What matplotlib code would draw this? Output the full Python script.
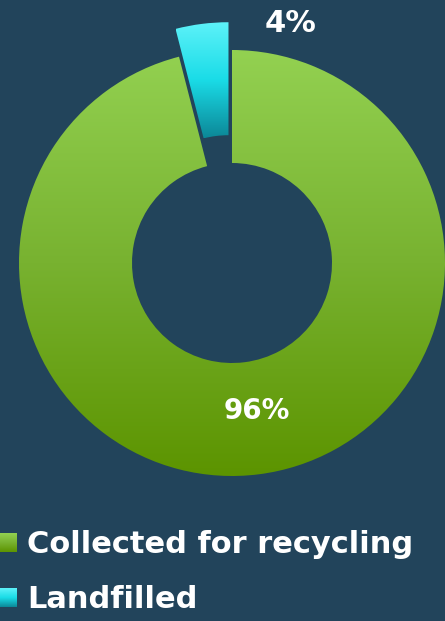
import numpy as np
import matplotlib.pyplot as plt
from matplotlib.colors import LinearSegmentedColormap
from matplotlib.patches import Rectangle

labels = ['Collected for recycling', 'Landfilled']
values = [96, 4]
pct_labels = ['96%', '4%']
top_colors = ['#93d151', '#5ef2f9']
mid_colors = ['#78b230', '#1adce7']
bottom_colors = ['#5c9400', '#0c8797']

bg = '#22445b'
plt.rcParams['font.family'] = ['DejaVu Sans']

fig = plt.figure(figsize=(4.45, 6.21), dpi=100, facecolor=bg)
ax = fig.add_axes([0, 0, 1, 1])
ax.set_facecolor(bg)

# axes in pixel units, y up
wedges, _ = ax.pie(values, startangle=90, counterclock=False,
                   explode=[0, 28], radius=213, center=(232, 358),
                   wedgeprops=dict(width=113, linewidth=0), frame=True)

grad = np.linspace(0, 1, 256).reshape(-1, 1)
for w, c0, cm, c1 in zip(wedges, bottom_colors, mid_colors, top_colors):
    cmap = LinearSegmentedColormap.from_list('g', [c0, cm, c1])
    ext = w.get_path().get_extents()
    w.set_facecolor('none')
    im = ax.imshow(grad, cmap=cmap, origin='lower', aspect='auto',
                   extent=(ext.x0, ext.x1, ext.y0, ext.y1), zorder=2)
    im.set_clip_path(w)

# percentage labels
ax.text(257, 210, pct_labels[0], color='white', fontsize=20, fontweight='bold',
        ha='center', va='center', zorder=5)
ax.text(291, 598, pct_labels[1], color='white', fontsize=22, fontweight='bold',
        ha='center', va='center', zorder=5)

# legend
legend_y = [68, 13]
for lab, yb, c0, cm, c1 in zip(labels, legend_y, bottom_colors, mid_colors, top_colors):
    sq = Rectangle((0, yb + 1), 17, 19, facecolor='none', linewidth=0)
    ax.add_patch(sq)
    cmap = LinearSegmentedColormap.from_list('g', [c0, cm, c1])
    im = ax.imshow(grad, cmap=cmap, origin='lower', aspect='auto',
                   extent=(0, 17, yb + 1, yb + 20), zorder=2)
    im.set_clip_path(sq)
    ax.text(27, yb, lab, color='white', fontsize=22, fontweight='bold',
            ha='left', va='baseline')

ax.set_xlim(0, 445)
ax.set_ylim(0, 621)
ax.set_aspect('auto')
ax.axis('off')

fig.savefig('out.png', dpi=100, facecolor=bg)
